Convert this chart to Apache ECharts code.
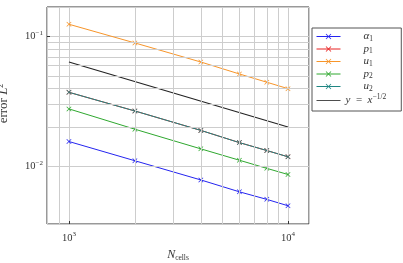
<!DOCTYPE html>
<html>
<head>
<meta charset="utf-8">
<script src="https://cdn.jsdelivr.net/npm/echarts@6/dist/echarts.min.js"></script>
<style>
  html, body { margin: 0; padding: 0; background: #fff; }
  #chart { width: 403px; height: 263px; }
</style>
</head>
<body>
<div id="chart"></div>
<script>
// mesh sizes and errors
var nCells = [1000, 2000, 4000, 6000, 8000, 10000];
var alpha1 = [0.0156, 0.0111, 0.0079, 0.0064, 0.0056, 0.0050];
var p1 = [0.0373, 0.0268, 0.0190, 0.0153, 0.0133, 0.0119];
var u1 = [0.1245, 0.0894, 0.0638, 0.0516, 0.0446, 0.0398];
var p2 = [0.0278, 0.0194, 0.0137, 0.0112, 0.0097, 0.0087];
var u2 = [0.0373, 0.0268, 0.0190, 0.0153, 0.0133, 0.0119];
var refX = [1000, 10000];
var refY = [0.0638, 0.0202];

// minor grid positions (log axes)
var xMinor = [900, 2000, 3000, 4000, 5000, 6000, 7000, 8000, 9000];
var yMinor = [0.004, 0.005, 0.006, 0.007, 0.008, 0.009,
              0.02, 0.03, 0.04, 0.05, 0.06, 0.07, 0.08, 0.09];

var serif = 'Liberation Serif';
var cross = 'path://M0,1L1,0L5,4L9,0L10,1L6,5L10,9L9,10L5,6L1,10L0,9L4,5Z';
var bar = 'path://M0,0L30,0L30,1L0,1Z';

function zip(xs, ys) {
    var out = [];
    for (var i = 0; i < xs.length; i++) out.push([xs[i], ys[i]]);
    return out;
}

function pow10(v) {
    var e = Math.round(Math.log10(v));
    return '{b|10}{s|' + (e < 0 ? '\u2212' + (-e) : e) + '}';
}

var tickRich = {
    b: { fontFamily: serif, fontSize: 10.5, color: '#333' },
    s: { fontFamily: serif, fontSize: 7, color: '#333', verticalAlign: 'bottom', padding: [0, 0, 7, 0] }
};

function errSeries(name, values, color) {
    return {
        name: name,
        type: 'line',
        data: zip(nCells, values),
        symbol: cross,
        symbolSize: 5,
        showSymbol: true,
        lineStyle: { color: color, width: 1 },
        itemStyle: { color: color },
        animation: false,
        z: 3
    };
}

var gridLines = [];
xMinor.forEach(function (v) { gridLines.push({ xAxis: v }); });
yMinor.forEach(function (v) { gridLines.push({ yAxis: v }); });

// legend labels, padded so they sit roughly centred like the original
var legendText = {
    'α1': '{pad|}{i|α}{sub|1}',
    'p1': '{pad|}{i|p}{sub|1}',
    'u1': '{pad|}{i|u}{sub|1}',
    'p2': '{pad|}{i|p}{sub|2}',
    'u2': '{pad|}{i|u}{sub|2}',
    'ref': '{i|y}  =  {i|x}{sup|\u22121/2}'
};

var chart = echarts.init(document.getElementById('chart'));

var option = {
    backgroundColor: '#fff',
    animation: false,
    grid: {
        left: 47, right: 94, top: 7, bottom: 39,
        outerBoundsMode: 'none',
        containLabel: false,
        show: true, borderColor: '#333', borderWidth: 1
    },
    legend: {
        orient: 'vertical',
        left: 312,
        top: 28,
        padding: [3, 15, 5, 4],
        itemWidth: 24,
        itemHeight: 7,
        itemGap: 0.5,
        backgroundColor: '#fff',
        borderColor: '#555',
        borderWidth: 1,
        borderRadius: 0,
        lineStyle: { width: 1 },
        data: ['α1', 'p1', 'u1', 'p2', 'u2', { name: 'ref', icon: bar }],
        formatter: function (name) { return legendText[name]; },
        textStyle: {
            fontFamily: serif,
            fontSize: 11,
            color: '#333',
            rich: {
                pad: { width: 18 },
                i: { fontFamily: serif, fontStyle: 'italic', fontSize: 11, color: '#333' },
                sub: { fontFamily: serif, fontSize: 7.5, color: '#333', verticalAlign: 'top', padding: [5, 0, 0, 0] },
                sup: { fontFamily: serif, fontSize: 7.5, color: '#333', verticalAlign: 'bottom', padding: [0, 0, 6, 0] }
            }
        }
    },
    xAxis: {
        type: 'log',
        logBase: 10,
        min: 794,
        max: 12470,
        name: '{i|N}{sub|cells}',
        nameLocation: 'middle',
        nameGap: 24,
        nameTextStyle: {
            rich: {
                i: { fontFamily: serif, fontStyle: 'italic', fontSize: 12, color: '#333' },
                sub: { fontFamily: serif, fontSize: 7.5, color: '#333', verticalAlign: 'top', padding: [6, 0, 0, 0] }
            }
        },
        axisLine: { show: false },
        axisTick: { inside: true, length: 3, lineStyle: { color: '#333' } },
        axisLabel: {
            showMinLabel: false,
            showMaxLabel: false,
            margin: 7,
            formatter: pow10,
            rich: tickRich
        },
        splitLine: { show: true, lineStyle: { color: '#cdcdcd', width: 1 } }
    },
    yAxis: {
        type: 'log',
        logBase: 10,
        min: 0.00362,
        max: 0.169,
        name: 'error {i|L}{sup|2}',
        nameLocation: 'middle',
        nameGap: 36,
        nameRotate: 90,
        nameTextStyle: {
            fontFamily: serif,
            fontSize: 13,
            color: '#333',
            padding: [0, 0, 0, 24],
            rich: {
                i: { fontFamily: serif, fontStyle: 'italic', fontSize: 13, color: '#333' },
                sup: { fontFamily: serif, fontSize: 8, color: '#333', verticalAlign: 'bottom', padding: [0, 0, 6, 0] }
            }
        },
        axisLine: { show: false },
        axisTick: { inside: true, length: 3, lineStyle: { color: '#333' } },
        axisLabel: {
            showMinLabel: false,
            showMaxLabel: false,
            margin: 4,
            formatter: pow10,
            rich: tickRich
        },
        splitLine: { show: true, lineStyle: { color: '#cdcdcd', width: 1 } }
    },
    series: [
        {
            name: 'grid',
            type: 'line',
            data: [],
            silent: true,
            z: 1,
            markLine: {
                silent: true,
                symbol: 'none',
                animation: false,
                label: { show: false },
                lineStyle: { color: '#cdcdcd', width: 1, type: 'solid' },
                emphasis: { disabled: true },
                data: gridLines
            }
        },
        errSeries('α1', alpha1, '#2424f0'),
        errSeries('p1', p1, '#e82020'),
        errSeries('u1', u1, '#f7952a'),
        errSeries('p2', p2, '#2fa82f'),
        errSeries('u2', u2, '#1f8683'),
        {
            name: 'ref',
            type: 'line',
            data: zip(refX, refY),
            symbol: 'none',
            lineStyle: { color: '#222', width: 1.1 },
            itemStyle: { color: '#222' },
            animation: false,
            z: 3
        }
    ]
};

chart.setOption(option);
</script>
</body>
</html>
